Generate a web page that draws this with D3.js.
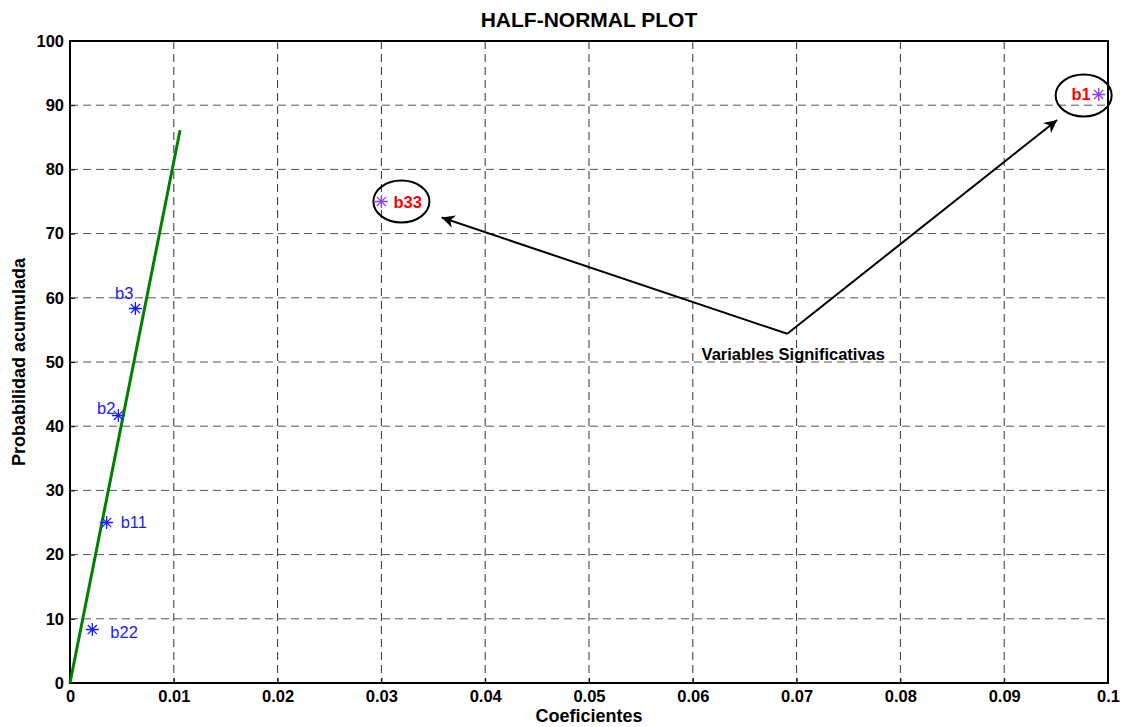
<!DOCTYPE html>
<html>
<head>
<meta charset="utf-8">
<script src="https://cdn.jsdelivr.net/npm/d3@7"></script>
<style>
  body { margin: 0; background: #fff; }
  svg text { font-family: "Liberation Sans", Arial, sans-serif; }
</style>
</head>
<body>
<div id="chart"></div>
<script>
// data
const labels = ['b22', 'b11', 'b2', 'b3', 'b33', 'b1'];
const coefs = [0.00215, 0.00353, 0.00466, 0.0063, 0.0300, 0.0991];
const probs = [8.33, 25, 41.67, 58.33, 75, 91.67];
const significant = ['b33', 'b1'];
const fitLine = [[0, 0], [0.0106, 86.1]];
const arrowFrom = [0.0691, 54.4];
const arrowTips = [[0.0358, 72.5], [0.0951, 87.7]];
const xTicks = [0, 0.01, 0.02, 0.03, 0.04, 0.05, 0.06, 0.07, 0.08, 0.09, 0.1];
const yTicks = [0, 10, 20, 30, 40, 50, 60, 70, 80, 90, 100];

const svg = d3.select('#chart').append('svg')
  .attr('width', 1122).attr('height', 727);
const margin = { top: 41, right: 14, bottom: 44, left: 70 };
const chartWidth = 1122 - margin.left - margin.right;
const chartHeight = 727 - margin.top - margin.bottom;

const x = d3.scaleLinear().domain([0, 0.1]).range([0, chartWidth]);
const y = d3.scaleLinear().domain([0, 100]).range([chartHeight, 0]);

const defs = svg.append('defs');
defs.append('marker')
  .attr('id', 'head')
  .attr('viewBox', '0 0 10 10')
  .attr('refX', 10).attr('refY', 5)
  .attr('markerWidth', 13).attr('markerHeight', 13)
  .attr('markerUnits', 'userSpaceOnUse')
  .attr('orient', 'auto')
  .append('path')
  .attr('d', 'M0,0 L10,5 L0,10 L3,5 Z')
  .attr('fill', '#000');

const chart = svg.append('g')
  .attr('transform', `translate(${margin.left},${margin.top})`);

// gridlines
chart.append('g')
  .selectAll('line')
  .data(xTicks.slice(1, -1))
  .join('line')
  .attr('x1', d => x(d)).attr('x2', d => x(d))
  .attr('y1', 0).attr('y2', chartHeight)
  .attr('stroke', '#333').attr('stroke-width', 1)
  .attr('stroke-dasharray', '8,5');
chart.append('g')
  .selectAll('line')
  .data(yTicks.slice(1, -1))
  .join('line')
  .attr('x1', 0).attr('x2', chartWidth)
  .attr('y1', d => y(d)).attr('y2', d => y(d))
  .attr('stroke', '#555').attr('stroke-width', 1)
  .attr('stroke-dasharray', '8,5');

// axes
const bottomAxis = d3.axisBottom(x).tickValues(xTicks).tickSize(-5).tickPadding(7)
  .tickFormat(d => d === 0 ? '0' : d3.format('')(+d.toFixed(2)));
const leftAxis = d3.axisLeft(y).tickValues(yTicks).tickSize(-5).tickPadding(6);
const bx = chart.append('g').attr('transform', `translate(0,${chartHeight})`).call(bottomAxis);
const ly = chart.append('g').call(leftAxis);
[bx, ly].forEach(g => {
  g.select('.domain').remove();
  g.selectAll('.tick line').attr('stroke', '#000');
  g.selectAll('.tick text')
    .attr('fill', '#000')
    .style('font-size', '16.5px')
    .style('font-weight', 'bold');
});
bx.selectAll('.tick text').attr('dy', '0.75em');

// box
chart.append('rect')
  .attr('width', chartWidth).attr('height', chartHeight)
  .attr('fill', 'none').attr('stroke', '#000').attr('stroke-width', 2);

// fitted line
chart.append('path')
  .datum(fitLine)
  .attr('d', d3.line().x(d => x(d[0])).y(d => y(d[1])))
  .attr('stroke', '#008000').attr('stroke-width', 3).attr('fill', 'none');

// points
const pts = labels.map((l, i) => ({ label: l, c: coefs[i], p: probs[i], sig: significant.includes(l) }));
const star = 'M-6.5,0H6.5M0,-6.5V6.5M-4.6,-4.6L4.6,4.6M-4.6,4.6L4.6,-4.6';
chart.selectAll('path.star')
  .data(pts)
  .join('path')
  .attr('class', 'star')
  .attr('transform', d => `translate(${x(d.c)},${y(d.p)})`)
  .attr('d', star)
  .attr('stroke', d => d.sig ? '#8a3cff' : '#1a1aff')
  .attr('stroke-width', 1.3)
  .attr('fill', 'none');

// labels
const labelPos = {
  b22: { dx: 18, dy: 8, anchor: 'start' },
  b11: { dx: 14, dy: 5, anchor: 'start' },
  b2: { dx: -3, dy: -1, anchor: 'end' },
  b3: { dx: -2, dy: -10, anchor: 'end' },
  b33: { dx: 12, dy: 6, anchor: 'start' },
  b1: { dx: -8, dy: 6, anchor: 'end' },
};
chart.selectAll('text.lbl')
  .data(pts)
  .join('text')
  .attr('class', 'lbl')
  .attr('x', d => x(d.c) + labelPos[d.label].dx)
  .attr('y', d => y(d.p) + labelPos[d.label].dy)
  .attr('text-anchor', d => labelPos[d.label].anchor)
  .style('font-size', '16.5px')
  .style('font-weight', d => d.sig ? 'bold' : 'normal')
  .attr('fill', d => d.sig ? '#ff0000' : '#1a1aff')
  .text(d => d.label);

// ellipses around significant points
const ellipseShift = { b33: [20, 0], b1: [-15, 1] };
chart.selectAll('ellipse')
  .data(pts.filter(d => d.sig))
  .join('ellipse')
  .attr('cx', d => x(d.c) + ellipseShift[d.label][0])
  .attr('cy', d => y(d.p) + ellipseShift[d.label][1])
  .attr('rx', 28).attr('ry', 21)
  .attr('fill', 'none').attr('stroke', '#000').attr('stroke-width', 2);

// arrows
chart.selectAll('line.arrow')
  .data(arrowTips)
  .join('line')
  .attr('x1', x(arrowFrom[0])).attr('y1', y(arrowFrom[1]))
  .attr('x2', d => x(d[0])).attr('y2', d => y(d[1]))
  .attr('stroke', '#000').attr('stroke-width', 2)
  .attr('marker-end', 'url(#head)');

chart.append('text')
  .attr('x', x(arrowFrom[0]) + 6)
  .attr('y', y(arrowFrom[1]) + 26)
  .attr('text-anchor', 'middle')
  .style('font-size', '16.5px')
  .style('font-weight', 'bold')
  .text('Variables Significativas');

// titles
svg.append('text')
  .attr('x', margin.left + chartWidth / 2)
  .attr('y', 27)
  .attr('text-anchor', 'middle')
  .style('font-size', '21px')
  .style('font-weight', 'bold')
  .text('HALF-NORMAL PLOT');
svg.append('text')
  .attr('x', margin.left + chartWidth / 2)
  .attr('y', 722)
  .attr('text-anchor', 'middle')
  .style('font-size', '18px')
  .style('font-weight', 'bold')
  .text('Coeficientes');
svg.append('text')
  .attr('transform', `translate(25,${margin.top + chartHeight / 2}) rotate(-90)`)
  .attr('text-anchor', 'middle')
  .style('font-size', '18px')
  .style('font-weight', 'bold')
  .text('Probabilidad acumulada');
</script>
</body>
</html>
